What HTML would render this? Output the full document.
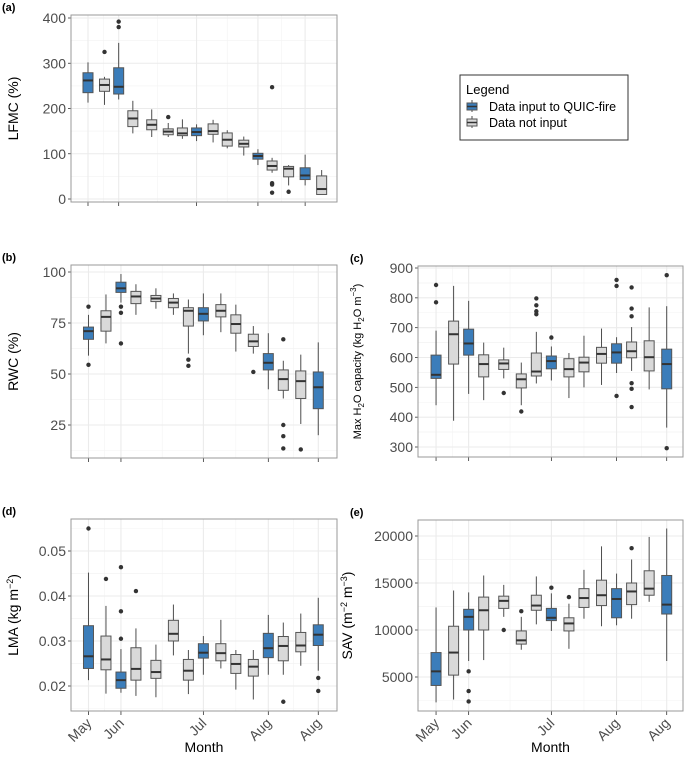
<!DOCTYPE html>
<html><head><meta charset="utf-8"><style>
body{margin:0;background:#fff;font-family:"Liberation Sans",Arial,sans-serif}
svg text{font-family:"Liberation Sans",Arial,sans-serif}
</style></head><body>
<svg id="fig" width="685" height="760" xmlns="http://www.w3.org/2000/svg"></svg>
<script>
// shared sample days (days since first sampling)
const daysA = [0,7,13,19,27,34,40,46,53,59,66,72,78,85,92,99];
const days = [0,7,13,19,27,34,40,46,53,59,66,72,78,85,92];
const inputA = [1,0,1,0,0,0,0,1,0,0,0,1,0,0,1,0];
const inputB = [1,0,1,0,0,0,0,1,0,0,0,1,0,0,1];
const monthTickDays = [0,13,46,72,92];
const monthTickLabels = ["May","Jun","Jul","Aug","Aug"];
// [min,q1,median,q3,max]
const lfmcStats = [[213,235,262,279,302],[208,238,252,265,270],[220,232,248,290,345],[145,160,178,195,217],[137,153,164,175,198],[137,142,149,155,168],[133,140,145,157,176],[128,140,148,157,165],[125,143,150,166,175],[112,117,131,146,152],[96,115,122,130,138],[75,88,95,101,110],[58,64,73,84,91],[30,49,67,72,75],[30,43,52,69,98],[10,10,22,51,64]];
const lfmcOut = [[],[325],[380,392],[],[],[181],[],[],[],[],[],[],[247,35,32,14],[16],[],[]];
const rwcStats = [[59,67,71,73,79],[65,71,78,81,89],[85,90,92,95,99],[79,84.5,88,90.5,94],[82,85.5,87,88.5,92],[79,82.5,85,87,89.5],[60,73.5,81,82.5,86.5],[69,76,79.5,82.5,89.5],[70.5,78,81,84,89.5],[61,70,74.5,79,84],[60,63.5,66,69.5,73.5],[42.5,52,55.5,60,70],[38,42,47.5,52,56.5],[25.5,38,46.5,51.5,59.5],[20,33,43.5,51,65.5]];
const rwcOut = [[83,54.5],[],[83,80,65],[],[],[],[57,54],[],[],[],[51],[],[67,25,19.5,13.5],[13],[]];
const capStats = [[440,530,542,608,690],[388,578,678,722,840],[478,608,647,695,790],[457,535,578,609,650],[530,560,580,592,633],[440,498,527,545,583],[513,538,553,615,686],[523,562,588,605,637],[464,535,561,596,615],[500,552,583,601,673],[508,581,612,634,697],[548,581,617,646,668],[555,599,621,652,702],[493,555,601,656,768],[365,495,578,628,772]];
const capOut = [[843,785],[],[],[],[481],[419],[745,755,775,798],[667],[],[],[],[471,840,860],[434,495,514,738,764,835],[],[876,296]];
const lmaStats = [[.0213,.0239,.0266,.0334,.0452],[.0183,.0236,.0259,.0311,.0378],[.0185,.0195,.0213,.0231,.0282],[.0178,.0213,.0238,.0285,.0328],[.0175,.0217,.0231,.0257,.0292],[.0268,.0300,.0316,.0346,.0381],[.0182,.0213,.0234,.0259,.0280],[.0225,.0262,.0274,.0294,.0311],[.0239,.0256,.0273,.0294,.0347],[.0192,.0228,.0249,.0270,.0280],[.0170,.0222,.0243,.0259,.0280],[.0225,.0263,.0284,.0317,.0358],[.0225,.0256,.0289,.0310,.0341],[.0245,.0276,.0290,.0319,.0361],[.0234,.0290,.0314,.0336,.0396]];
const lmaOut = [[.055],[.0438],[.0305,.0366,.0464],[.0411],[],[],[],[],[],[],[],[],[.0165],[],[.0218,.0189]];
const savStats = [[2300,4100,5600,7600,12400],[2600,5200,7600,10400,14200],[6700,10000,11400,12200,14000],[6800,10000,12100,13500,15800],[11400,12300,13100,13600,14800],[7900,8500,8900,9900,11400],[10600,12100,12600,13700,15700],[9900,11000,11300,12300,13900],[8000,9900,10700,11300,12800],[11200,12400,13400,14400,16400],[10400,12600,13700,15300,18900],[10500,11300,13300,14400,16000],[11200,12700,14100,15000,17500],[13000,13700,14400,16300,19900],[6700,11700,12700,15800,20800]];
const savOut = [[],[],[5600,3500,2400],[],[10000],[12000],[],[14500],[13500],[],[],[],[18700],[],[]];
const lfmcTicks=[0,100,200,300,400], rwcTicks=[25,50,75,100], capTicks=[300,400,500,600,700,800,900], lmaTicks=[0.02,0.03,0.04,0.05], savTicks=[5000,10000,15000,20000];

const NS="http://www.w3.org/2000/svg";
const svg=document.getElementById('fig');
function el(tag,attrs,parent){const e=document.createElementNS(NS,tag);for(const k in attrs)e.setAttribute(k,attrs[k]);(parent||svg).appendChild(e);return e;}
const BLUE="#3b7dba", GREY="#d9d9d9";

function panel(o){
  const g=el('g',{});
  
  
  const xs=d=>o.x0+(d-o.dMin)/(o.dMax-o.dMin)*(o.x1-o.x0);
  const ys=v=>o.yA+(v-o.vA)/(o.vB-o.vA)*(o.yB-o.yA);
  el('rect',{x:o.x0,y:o.y0,width:o.x1-o.x0,height:o.y1-o.y0,fill:'#fff'},g);
  for(let i=0;i<o.ticks.length;i++){
    const step=o.ticks[1]-o.ticks[0];
    for(const v of [o.ticks[i]-step/2,o.ticks[i]+step/2]){const y=ys(v);if(y>o.y0&&y<o.y1)el('line',{x1:o.x0,x2:o.x1,y1:y,y2:y,stroke:'#f3f3f3','stroke-width':0.6},g);}
  }
  for(let i=0;i<monthTickDays.length-1;i++){const x=xs((monthTickDays[i]+monthTickDays[i+1])/2);el('line',{x1:x,x2:x,y1:o.y0,y2:o.y1,stroke:'#f3f3f3','stroke-width':0.6},g);}
  o.ticks.forEach(v=>{const y=ys(v);
    el('line',{x1:o.x0,x2:o.x1,y1:y,y2:y,stroke:'#ebebeb','stroke-width':1.1},g);
    el('line',{x1:o.x0-3,x2:o.x0,y1:y,y2:y,stroke:'#333','stroke-width':0.8},g);
    const t=el('text',{x:o.x0-5,y:y+5,'text-anchor':'end','font-size':o.tf,fill:'#4d4d4d'},g);t.textContent=o.fmt(v);
    
  });
  monthTickDays.forEach((d,i)=>{const x=xs(d);
    el('line',{x1:x,x2:x,y1:o.y0,y2:o.y1,stroke:'#ebebeb','stroke-width':1.1},g);
    el('line',{x1:x,x2:x,y1:o.y1,y2:o.y1+4,stroke:'#333','stroke-width':0.8},g);
    if(o.xlab){const t=el('text',{x:x+4,y:o.y1+13,'text-anchor':'end','font-size':14,fill:'#4d4d4d',transform:`rotate(-45 ${x+4} ${o.y1+13})`},g);t.textContent=monthTickLabels[i];
      }
  });
  o.stats.forEach((s,i)=>{const x=xs(o.days[i]),w=5,b=el('g',{},g);
    
    
    el('line',{x1:x,x2:x,y1:ys(s[0]),y2:ys(s[4]),stroke:'#4d4d4d','stroke-width':1},b);
    el('rect',{x:x-w,y:ys(s[3]),width:2*w,height:Math.max(0.5,ys(s[1])-ys(s[3])),fill:o.input[i]?BLUE:GREY,stroke:'#555','stroke-width':1},b);
    el('line',{x1:x-w,x2:x+w,y1:ys(s[2]),y2:ys(s[2]),stroke:'#333','stroke-width':2},b);
    o.out[i].forEach(v=>el('circle',{cx:x,cy:ys(v),r:2.2,fill:'#333'},b));
  });
  el('rect',{x:o.x0,y:o.y0,width:o.x1-o.x0,height:o.y1-o.y0,fill:'none',stroke:'#999','stroke-width':1},g);
  const lab=el('text',{x:o.lx,y:o.y0-4,'font-size':11,'font-weight':'bold',fill:'#000'},g);lab.textContent=o.label;
  
  const cy=(o.y0+o.y1)/2;
  const yt=el('text',{x:o.tx,y:cy,'text-anchor':'middle','font-size':o.titleF,fill:'#000',transform:`rotate(-90 ${o.tx} ${cy})`},g);yt.innerHTML=o.title;
  
  if(o.xlab){const mt=el('text',{x:(o.x0+o.x1)/2,y:752,'text-anchor':'middle','font-size':14,fill:'#000'},g);mt.textContent='Month';
    }
}
panel({name:'lfmc',label:'(a)',lx:2,x0:71,x1:337,y0:15,y1:202,dMin:-7.2,dMax:105.5,vA:400,yA:18,vB:0,yB:199,ticks:lfmcTicks,fmt:v=>v,tf:14,stats:lfmcStats,out:lfmcOut,days:daysA,input:inputA,title:'LFMC (%)',tx:18,titleF:14});
panel({name:'rwc',label:'(b)',lx:2,x0:71,x1:337,y0:265,y1:458,dMin:-7,dMax:99.5,vA:100,yA:272,vB:25,yB:425,ticks:rwcTicks,fmt:v=>v,tf:14,stats:rwcStats,out:rwcOut,days:days,input:inputB,title:'RWC (%)',tx:18,titleF:14});
panel({name:'max-h2o-capacity',label:'(c)',lx:350,x0:418,x1:683,y0:266,y1:457,dMin:-7.2,dMax:98.5,vA:900,yA:268,vB:300,yB:447,ticks:capTicks,fmt:v=>v,tf:14,stats:capStats,out:capOut,days:days,input:inputB,title:'Max H<tspan dy="3" font-size="8">2</tspan><tspan dy="-3">O capacity (kg H</tspan><tspan dy="3" font-size="8">2</tspan><tspan dy="-3">O m</tspan><tspan dy="-5" font-size="8">−3</tspan><tspan dy="5">)</tspan>',tx:361,titleF:11});
panel({name:'lma',label:'(d)',lx:2,x0:71,x1:337,y0:519,y1:711,dMin:-7,dMax:99.5,vA:0.05,yA:551,vB:0.02,yB:686,ticks:lmaTicks,fmt:v=>v.toFixed(2),tf:14,stats:lmaStats,out:lmaOut,days:days,input:inputB,title:'LMA (kg m<tspan dy="-5" font-size="9">−2</tspan><tspan dy="5">)</tspan>',tx:18,titleF:14,xlab:true});
panel({name:'sav',label:'(e)',lx:350,x0:418,x1:683,y0:520,y1:711,dMin:-7.2,dMax:98.5,vA:20000,yA:536,vB:5000,yB:677,ticks:savTicks,fmt:v=>v,tf:14,stats:savStats,out:savOut,days:days,input:inputB,title:'SAV (m<tspan dy="-5" font-size="9">−2</tspan><tspan dy="5"> m</tspan><tspan dy="-5" font-size="9">−3</tspan><tspan dy="5">)</tspan>',tx:352,titleF:14,xlab:true});
const lg=el('g',{});


el('rect',{x:460,y:75,width:168,height:65,fill:'#fff',stroke:'#333','stroke-width':1},lg);
const lt=el('text',{x:466,y:94,'font-size':13,fill:'#000'},lg);lt.textContent='Legend';
[['Data input to QUIC-fire',BLUE,111],['Data not input',GREY,127]].forEach(([txt,c,y])=>{
  const e=el('g',{},lg);
  
  
  el('line',{x1:472,x2:472,y1:y-11,y2:y+1,stroke:'#4d4d4d'},e);
  el('rect',{x:467,y:y-8,width:10,height:7,fill:c,stroke:'#555'},e);
  el('line',{x1:467,x2:477,y1:y-4.5,y2:y-4.5,stroke:'#333','stroke-width':1.5},e);
  const t=el('text',{x:489,y:y,'font-size':12.5,fill:'#000'},e);t.textContent=txt;
});
</script>
</body></html>
